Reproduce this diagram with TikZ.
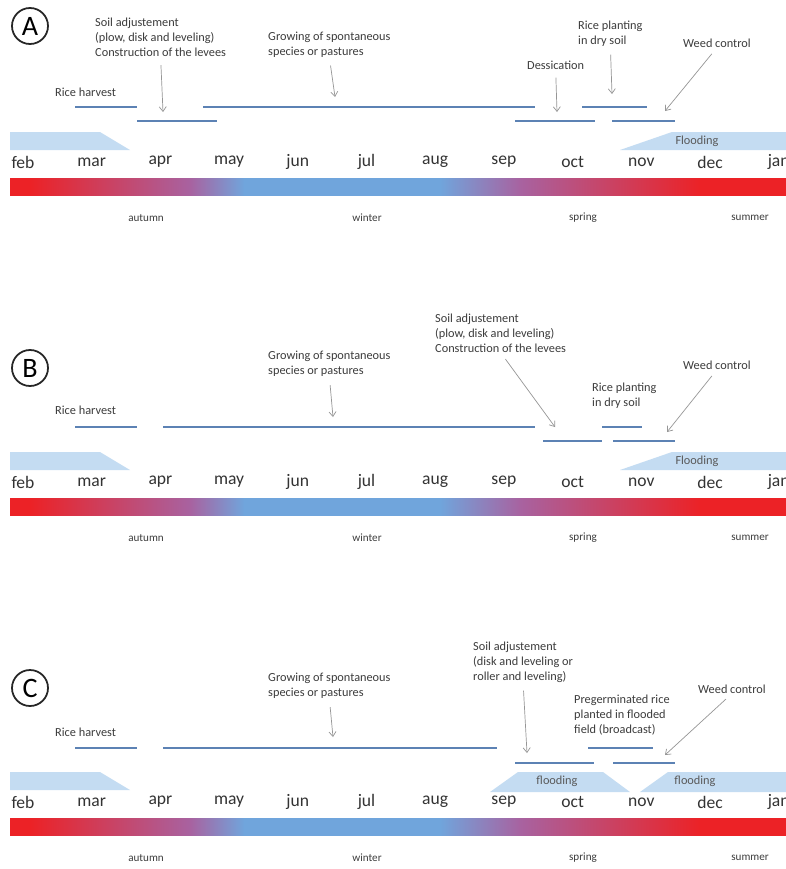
\documentclass[tikz,border=0pt]{standalone}
\usepackage{fontspec}
\setmainfont{Carlito}
\usetikzlibrary{arrows.meta}

\definecolor{txt}{RGB}{60,60,60}
\definecolor{gris}{RGB}{150,150,150}
\definecolor{etapaazul}{RGB}{92,130,180}
\definecolor{agua}{RGB}{196,220,242}
\definecolor{calor}{RGB}{236,34,38}
\definecolor{frio}{RGB}{112,165,220}
\definecolor{malva}{RGB}{168,98,160}

% barra de estaciones: 25bp-75bp cubre la barra
\pgfdeclarehorizontalshading{estaciones}{100bp}{color(0bp)=(calor); color(26.3bp)=(calor);
  color(36.6bp)=(malva); color(40.1bp)=(frio); color(52.7bp)=(frio);
  color(57.9bp)=(malva); color(69.5bp)=(calor); color(100bp)=(calor)}

\tikzset{
  lbl/.style={font=\fontsize{10.5}{12.75}\selectfont, text=txt, align=left, inner sep=0pt, anchor=west},
  mes/.style={font=\fontsize{15}{18}\selectfont, text=black!80, inner sep=0pt},
  estacion/.style={font=\fontsize{9.5}{11}\selectfont, text=txt, inner sep=0pt},
  inundlbl/.style={font=\fontsize{10.5}{12}\selectfont, text=black!65, inner sep=0pt},
  etapa/.style={draw=etapaazul, line width=1.6pt},
  flecha/.style={draw=gris, line width=0.6pt, shorten <=7pt, -{Straight Barb[length=4pt,width=6pt]}},
  inund/.style={fill=agua},
  panel/.style={draw=black!85, circle, line width=1.5pt, minimum size=1.08cm, inner sep=0pt, font=\fontsize{24}{26}\selectfont}
}

\begin{document}
\begin{tikzpicture}[x=0.03cm, y=-0.03cm]
\fill[white] (0,0) rectangle (786,869);
\useasboundingbox (0,0) rectangle (786,869);

% meses, barra de estaciones y estaciones (igual en los tres)
\foreach \p/\dy in {A/0,B/320,C/640}{
  \begin{scope}[shift={(0,\dy)}]
  \foreach \m [count=\i] in {feb,mar,apr,may,jun,jul,aug,sep,oct,nov,dec,jan}
    \node[mes] (m\p\i) at ({23+68.7*(\i-1)},162) {\m};
  % barra
  \shade[shading=estaciones] (10,178) rectangle (786,195);
  \node[estacion] (otono\p) at (146,218) {autumn};
  \node[estacion] (invierno\p) at (367,218) {winter};
  \node[estacion] (primavera\p) at (583,218) {spring};
  \node[estacion] (verano\p) at (750,218) {summer};
  % inundacion de la izquierda
  \fill[inund] (10,132) -- (100,132) -- (130,150) -- (10,150) -- cycle;
  \end{scope}
}

% A
\node[panel] (panA) at (30,26) {A};
\node[lbl] (soilA) at (95,37.5) {Soil adjustement\\(plow, disk and leveling)\\Construction of the levees};
\node[lbl] (growA) at (268,44.5) {Growing of spontaneous\\species or pastures};
\node[lbl] (harvA) at (55,92) {Rice harvest};
\node[lbl] (desA) at (527,65) {Dessication};
\node[lbl] (plantA) at (578,33.5) {Rice planting\\in dry soil};
\node[lbl] (weedA) at (683,43) {Weed control};
\fill[inund] (620,150) -- (672,132) -- (786,132) -- (786,150) -- cycle;
\node[inundlbl] (floodA) at (697,141) {Flooding};
\draw[etapa] (75,107) -- (137,107);
\draw[etapa] (137,121) -- (217,121);
\draw[etapa] (203,107) -- (535,107);
\draw[etapa] (515,121) -- (595,121);
\draw[etapa] (582,107) -- (647,107);
\draw[etapa] (612,121) -- (675,121);
\coordinate (soilAend) at (163,112);
\coordinate (growAend) at (335,97);
\coordinate (desAend) at (557,112);
\coordinate (plantAend) at (612,94);
\coordinate (weedAend) at (665,111);
\draw[flecha] (soilA.south) -- (soilAend);
\draw[flecha] (growA.south) -- (growAend);
\draw[flecha] (desA.south) -- (desAend);
\draw[flecha] (plantA.south) -- (plantAend);
\draw[flecha] (weedA.south) -- (weedAend);

% B
\node[panel] (panB) at (30,368) {B};
\node[lbl] (soilB) at (435,333) {Soil adjustement\\(plow, disk and leveling)\\Construction of the levees};
\node[lbl] (growB) at (268,364) {Growing of spontaneous\\species or pastures};
\node[lbl] (harvB) at (55,410) {Rice harvest};
\node[lbl] (plantB) at (592,396) {Rice planting\\in dry soil};
\node[lbl] (weedB) at (683,365) {Weed control};
\fill[inund] (620,470) -- (672,452) -- (786,452) -- (786,470) -- cycle;
\node[inundlbl] (floodB) at (697,461) {Flooding};
\draw[etapa] (75,427) -- (137,427);
\draw[etapa] (163,427) -- (535,427);
\draw[etapa] (543,441) -- (602,441);
\draw[etapa] (602,427) -- (642,427);
\draw[etapa] (613,441) -- (675,441);
\coordinate (soilBend) at (555,427);
\coordinate (growBend) at (333,417);
\coordinate (weedBend) at (667,432);
\draw[flecha] (soilB.south) -- (soilBend);
\draw[flecha] (growB.south) -- (growBend);
\draw[flecha] (weedB.south) -- (weedBend);

% C
\node[panel] (panC) at (30,688) {C};
\node[lbl] (growC) at (268,686) {Growing of spontaneous\\species or pastures};
\node[lbl] (harvC) at (55,732) {Rice harvest};
\node[lbl] (soilC) at (473,662) {Soil adjustement\\(disk and leveling or\\roller and leveling)};
\node[lbl] (pregC) at (574,715) {Pregerminated rice\\planted in flooded\\field (broadcast)};
\node[lbl] (weedC) at (698,689) {Weed control};
\fill[inund] (490,792) -- (518,772) -- (603,772) -- (630,792) -- cycle;
\fill[inund] (640,792) -- (668,772) -- (786,772) -- (786,792) -- cycle;
\node[inundlbl] (floodC1) at (557,781) {flooding};
\node[inundlbl] (floodC2) at (695,781) {flooding};
\draw[etapa] (75,748) -- (137,748);
\draw[etapa] (163,748) -- (497,748);
\draw[etapa] (515,763) -- (594,763);
\draw[etapa] (588,748) -- (653,748);
\draw[etapa] (613,763) -- (675,763);
\coordinate (growCend) at (333,737);
\coordinate (soilCend) at (527,753);
\coordinate (weedCend) at (665,755);
\draw[flecha] (growC.south) -- (growCend);
\draw[flecha] (soilC.south) -- (soilCend);
\draw[flecha] (weedC.south) -- (weedCend);

\end{tikzpicture}
\end{document}
